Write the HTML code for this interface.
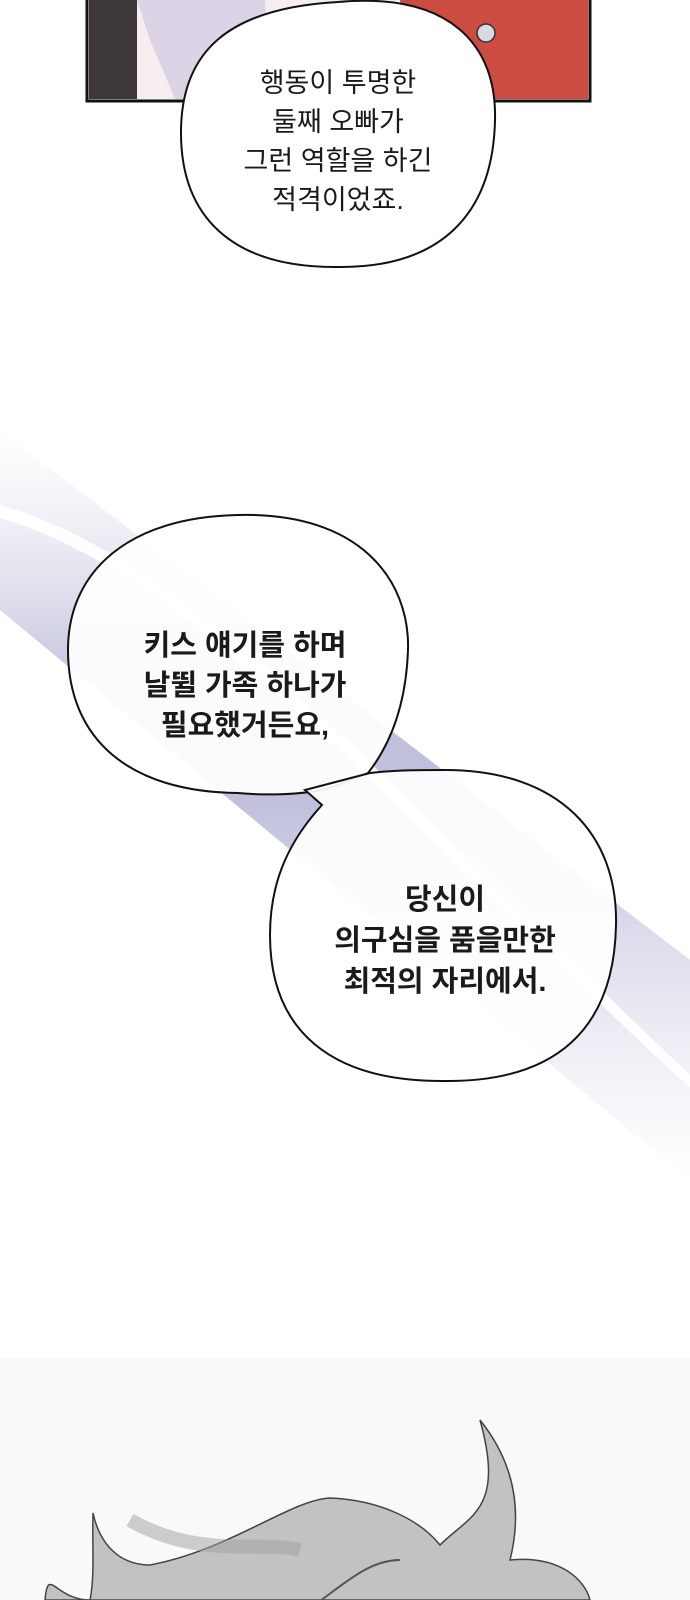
<!DOCTYPE html>
<html><head><meta charset="utf-8"><style>
html,body{margin:0;padding:0;background:#fff;}
body{width:690px;height:1600px;position:relative;overflow:hidden;font-family:"Liberation Sans","Noto Sans CJK KR",sans-serif;}
.t{position:absolute;text-align:center;color:#1a1a1a;white-space:nowrap;}
</style></head><body>
<svg width="690" height="1600" style="position:absolute;left:0;top:0">
<defs>
<linearGradient id="band" x1="0" y1="0" x2="0" y2="1">
<stop offset="0" stop-color="#c9c9e0" stop-opacity="0"/>
<stop offset="0.35" stop-color="#9c9cc8" stop-opacity="0.8"/>
<stop offset="0.5" stop-color="#a8a8d0" stop-opacity="0.9"/>
<stop offset="1" stop-color="#c9c9e0" stop-opacity="0"/>
</linearGradient>
</defs>
<rect x="87" y="-5" width="503" height="106" fill="#f6eeee" stroke="#111" stroke-width="3"/>
<rect x="89" y="0" width="48" height="99" fill="#3d3737"/>
<polygon points="137,0 265,0 270,99 175,99 150,40" fill="#ddd3e6"/>
<polygon points="400,0 588,0 588,99 410,99" fill="#cc4c44"/>
<circle cx="486" cy="33" r="9" fill="#d9d9e0" stroke="#333" stroke-width="1.5"/>
<path d="M338,2 C450,-8 497,45 495,120 C493,215 440,268 338,267 C230,268 180,215 181,130 C182,50 230,8 338,2 Z" fill="#fff" stroke="#111" stroke-width="2"/>
<path d="M0,430 L690,960 L690,1180 L0,610 Z" fill="url(#band)" opacity="0.8"/>
<path d="M0,505 C200,560 420,820 690,1075 L690,1088 C420,840 200,575 0,518 Z" fill="#fff"/>
<path d="M238,515 C360,512 410,580 408,650 C406,705 390,745 368,773 L330,788 C300,796 260,795 238,793 C130,792 68,740 68,650 C68,570 130,517 238,515 Z" fill="#fff" fill-opacity="0.93" stroke="#111" stroke-width="2"/>
<path d="M445,770 C560,770 618,835 616,925 C614,1030 555,1082 445,1081 C330,1082 270,1030 270,935 C270,880 290,840 322,805 L305,790 L370,773 C395,770 420,770 445,770 Z" fill="#fff" fill-opacity="0.93" stroke="#111" stroke-width="2"/>
<rect x="0" y="1358" width="690" height="242" fill="#f9f9f9"/>
<path d="M93,1513 C100,1545 120,1565 150,1565 C230,1550 290,1500 330,1498 C380,1500 420,1520 440,1545 C470,1515 505,1510 480,1420 C520,1470 520,1520 510,1560 C560,1555 585,1580 590,1600 L45,1600 C48,1565 55,1600 90,1600 C95,1575 92,1545 93,1513 Z" fill="#c2c2c2" stroke="#444" stroke-width="1.5"/>
<path d="M130,1520 C200,1560 260,1540 300,1550" fill="none" stroke="#a0a0a0" stroke-width="14" opacity="0.5"/>
<path d="M290,1620 C330,1600 360,1560 400,1560" fill="none" stroke="#555" stroke-width="2"/>
</svg>
<div class="t" style="left:188px;top:64px;width:300px;font-size:27px;line-height:39px;">행동이 투명한<br>둘째 오빠가<br>그런 역할을 하긴<br>적격이었죠.</div>
<div class="t" style="left:95px;top:626px;width:300px;font-size:29px;font-weight:bold;line-height:40px;">키스 얘기를 하며<br>날뛸 가족 하나가<br>필요했거든요,</div>
<div class="t" style="left:295px;top:880px;width:300px;font-size:29px;font-weight:bold;line-height:41px;">당신이<br>의구심을 품을만한<br>최적의 자리에서.</div>
</body></html>
